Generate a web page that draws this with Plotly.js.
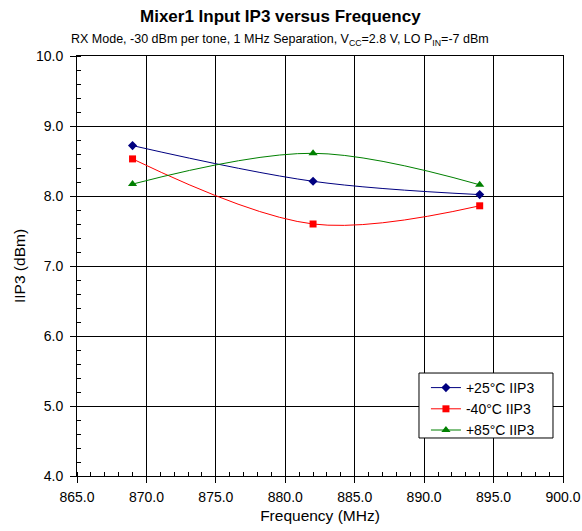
<!DOCTYPE html>
<html><head><meta charset="utf-8">
<script src="https://cdn.plot.ly/plotly-3.0.1.min.js"></script>
<style>body{margin:0;background:#fff}#chart{width:582px;height:531px}</style>
</head><body><div id="chart"></div>
<script>
const freq = [869, 882, 894];
const iip3_25 = [8.72, 8.21, 8.02];
const iip3_m40 = [8.53, 7.60, 7.86];
const iip3_85 = [8.17, 8.61, 8.16];
const names = ['+25°C IIP3', '-40°C IIP3', '+85°C IIP3'];
const xTicks = [865, 870, 875, 880, 885, 890, 895, 900];
const yTicks = [4, 5, 6, 7, 8, 9, 10];

const font = 'Liberation Sans, Arial, sans-serif';
const traces = [
  {x: freq, y: iip3_25, name: names[0], mode: 'lines+markers', line: {color: '#000080', width: 1, shape: 'spline'}, marker: {symbol: 'diamond', size: 7, color: '#000080'}},
  {x: freq, y: iip3_m40, name: names[1], mode: 'lines+markers', line: {color: '#ff0000', width: 1, shape: 'spline'}, marker: {symbol: 'square', size: 7, color: '#ff0000'}},
  {x: freq, y: iip3_85, name: names[2], mode: 'lines+markers', line: {color: '#008000', width: 1, shape: 'spline'}, marker: {symbol: 'triangle-up', size: 8, color: '#008000'}}
];
const layout = {
  width: 582, height: 531,
  margin: {l: 77, r: 19, t: 56, b: 55},
  paper_bgcolor: '#fff', plot_bgcolor: '#fff',
  font: {family: font, color: '#000', size: 14},
  showlegend: true,
  legend: {x: 0.718, y: 0.2476, xanchor: 'left', yanchor: 'top', bgcolor: 'rgba(0,0,0,0)', borderwidth: 0, font: {size: 14}, tracegroupgap: 0, itemwidth: 30},
  shapes: [
    {type: 'rect', xref: 'paper', yref: 'paper', x0: 0.7037, x1: 0.9794, y0: 0.0905, y1: 0.2452, layer: 'above', fillcolor: '#fff', line: {color: '#000', width: 1}}
  ],
  xaxis: {
    range: [865, 900], tickmode: 'array', tickvals: xTicks, ticktext: xTicks.map(v => v.toFixed(1)),
    ticklabeloverflow: 'allow', ticklabelstandoff: 2,
    showline: true, linecolor: '#000', linewidth: 1, mirror: true,
    showgrid: true, gridcolor: '#000', gridwidth: 1,
    ticks: 'outside', ticklen: 6, tickcolor: '#000', zeroline: false,
    minor: {dtick: 1, ticks: 'inside', ticklen: 4, tickcolor: '#000', showgrid: false},
    title: {text: 'Frequency (MHz)', font: {size: 15.5}, standoff: 6}
  },
  yaxis: {
    range: [4, 10], tickmode: 'array', tickvals: yTicks, ticktext: yTicks.map(v => v.toFixed(1)),
    ticklabeloverflow: 'allow', ticklabelstandoff: 4,
    showline: true, linecolor: '#000', linewidth: 1, mirror: true,
    showgrid: true, gridcolor: '#000', gridwidth: 1,
    ticks: 'outside', ticklen: 6, tickcolor: '#000', zeroline: false,
    minor: {dtick: 0.2, ticks: 'inside', ticklen: 4, tickcolor: '#000', showgrid: false},
    title: {text: 'IIP3 (dBm)', font: {size: 15.5}, standoff: 6}
  },
  annotations: [
    {text: '<b>Mixer1 Input IP3 versus Frequency</b>', xref: 'paper', yref: 'paper', x: 0.418, y: 1, yshift: 40, showarrow: false, font: {size: 17}, xanchor: 'center', yanchor: 'middle'},
    {text: 'RX Mode, -30 dBm per tone, 1 MHz Separation, V<sub>CC</sub>=2.8 V, LO P<sub>IN</sub>=-7 dBm', xref: 'paper', yref: 'paper', x: 0.418, y: 1, yshift: 16, showarrow: false, font: {size: 12.5}, xanchor: 'center', yanchor: 'middle'}
  ]
};
Plotly.newPlot('chart', traces, layout, {displayModeBar: false, staticPlot: true});
</script></body></html>
